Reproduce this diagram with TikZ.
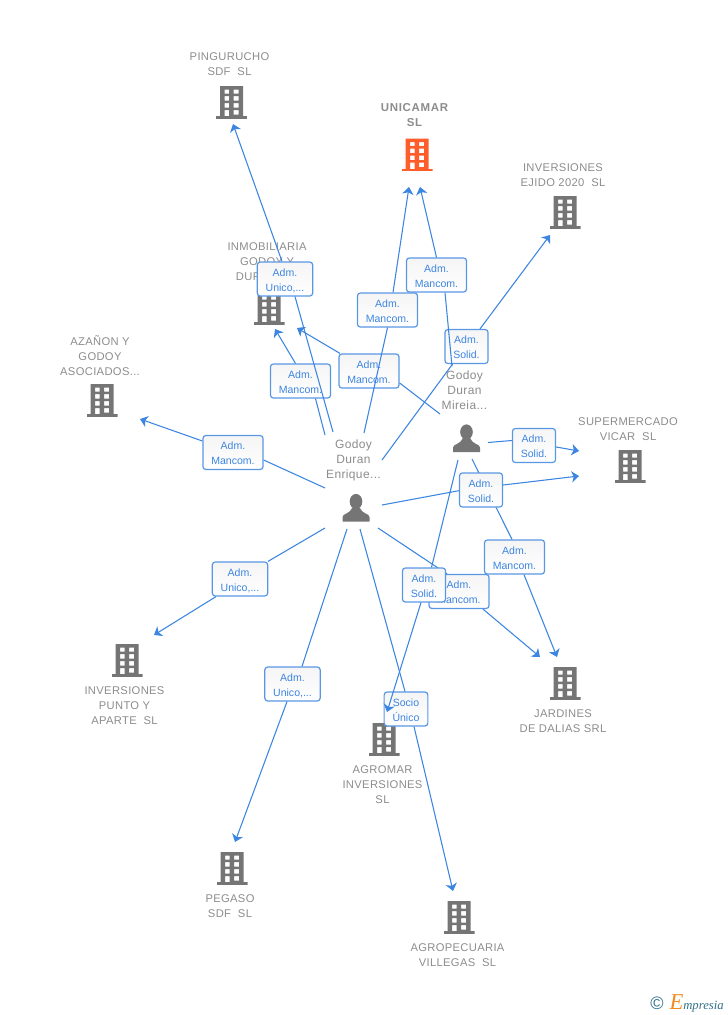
\documentclass[tikz,border=0pt]{standalone}
\usepackage{fontspec}
\setmainfont{Liberation Sans}
\newfontfamily\lblfont[LetterSpace=3]{Liberation Sans}
\newfontfamily\boldfont[LetterSpace=6]{Liberation Sans}
\newfontfamily\logofont{Liberation Serif}
\usetikzlibrary{arrows.meta, positioning}
\definecolor{linkblue}{HTML}{3C85E0}
\definecolor{lblgrey}{HTML}{8C8C8C}
\definecolor{iconbase}{HTML}{757575}
\definecolor{iconred}{HTML}{FF5E2B}
\definecolor{logoteal}{HTML}{2F6F86}
\definecolor{logoorange}{HTML}{F28A1E}

\begin{document}
\begin{tikzpicture}[
      x=0.75pt, y=-0.75pt,
      >={Stealth[length=5.5pt, width=8.5pt, inset=1.5pt]},
      link/.style={linkblue, line width=0.8pt},
      rolebox/.style={rectangle, draw=linkblue!85, line width=0.9pt, rounded corners=2.2pt, top color=black!4, bottom color=white,
        text=linkblue, font=\fontsize{7.9}{11.25}\selectfont, align=center, inner xsep=6.3pt, inner ysep=1.8pt, minimum height=25.5pt, text height=18.5pt, text depth=0pt},
      complabel/.style={text=lblgrey, font=\lblfont\fontsize{8.4}{11.25}\selectfont, align=center, inner sep=0pt},
      perlabel/.style={text=lblgrey, font=\lblfont\fontsize{9}{11.25}\selectfont, align=center, inner sep=0pt},
      bldg/.style={rectangle, minimum width=23.25pt, minimum height=25pt, inner sep=0pt, path picture={
        \begin{scope}[shift={(path picture bounding box.center)}]
          \fill[#1, even odd rule] (-11.5,-16) rectangle (11.5,15)
            (-7,-12.5) rectangle (-2.5,-8.5) (2,-12.5) rectangle (7,-8.5)
            (-7,-6) rectangle (-2.5,-1.5) (2,-6) rectangle (7,-1.5)
            (-7,1) rectangle (-2.5,5.5) (2,1) rectangle (7,5.5)
            (-7,8) rectangle (-2.5,15) (2,8) rectangle (7,12.5);
          \fill[#1] (-15.5,14) rectangle (15.5,16.5);
        \end{scope}}},
      bldg/.default=iconbase,
      person/.style={rectangle, minimum width=21pt, minimum height=22.5pt, inner sep=0pt, path picture={
        \begin{scope}[shift={(path picture bounding box.center)}]
          \fill[iconbase] (0,-6) ellipse (6.3 and 7.6);
          \fill[iconbase] (-13.5,14) -- (-13.5,9.5) .. controls (-13.5,6) and (-6,6.5) .. (-3.5,0) -- (3.5,0)
            .. controls (6,6.5) and (13.5,6) .. (13.5,9.5) -- (13.5,14) -- cycle;
        \end{scope}}}
    ]
    \useasboundingbox (0,0) rectangle (728,1015);

    % Companies
    \node[bldg] (pingurucho) at (231.5,102) {};
    \node[bldg=iconred] (unicamar) at (417,154.5) {};
    \node[bldg] (ejido) at (565,212) {};
    \node[bldg] (inmobiliaria) at (269,308) {};
    \node[bldg] (azanon) at (102,400) {};
    \node[bldg] (supermercado) at (630,466) {};
    \node[bldg] (punto) at (127,660) {};
    \node[bldg] (jardines) at (565,683) {};
    \node[bldg] (agromar) at (384,739) {};
    \node[bldg] (pegaso) at (232,868) {};
    \node[bldg] (agropecuaria) at (459,917) {};

    % Company labels
    \node[complabel] (pingurucho_l) at (229.5,64) {PINGURUCHO\\SDF~~SL};
    \node[complabel, font=\boldfont\bfseries\fontsize{8.6}{11.25}\selectfont] (unicamar_l) at (414.5,115.5) {UNICAMAR\\SL};
    \node[complabel] (ejido_l) at (563,175) {INVERSIONES\\EJIDO 2020~~SL};
    \node[complabel] (inmobiliaria_l) at (267,261.5) {INMOBILIARIA\\GODOY Y\\DURAN~~SL};
    \node[complabel] (azanon_l) at (100,355.5) {AZAÑON Y\\GODOY\\ASOCIADOS...};
    \node[complabel] (supermercado_l) at (628,429) {SUPERMERCADO\\VICAR~~SL};
    \node[complabel] (punto_l) at (124.5,705.5) {INVERSIONES\\PUNTO Y\\APARTE~~SL};
    \node[complabel] (jardines_l) at (563,721.5) {JARDINES\\DE DALIAS SRL};
    \node[complabel] (agromar_l) at (382.5,784.5) {AGROMAR\\INVERSIONES\\SL};
    \node[complabel] (pegaso_l) at (230,906) {PEGASO\\SDF~~SL};
    \node[complabel] (agropecuaria_l) at (457.5,955) {AGROPECUARIA\\VILLEGAS~~SL};

    % People
    \node[person] (enrique) at (356,507.5) {};
    \node[person] (mireia) at (466.5,438) {};
    \node[perlabel] (enrique_l) at (353.5,460) {Godoy\\Duran\\Enrique...};
    \node[perlabel] (mireia_l) at (464.5,390.5) {Godoy\\Duran\\Mireia...};

    % Loose ends
    \coordinate (e_pin) at (333,432);    \coordinate (t_pin) at (233,124);
    \coordinate (e_uni) at (364,433);    \coordinate (t_unil) at (409,187);
    \coordinate (e_eji) at (382,460);    \coordinate (t_eji) at (550,235);
    \coordinate (e_inm) at (325,435);    \coordinate (t_inml) at (275,329);
    \coordinate (m_inm) at (440,414);    \coordinate (t_inmr) at (297,328);
    \coordinate (e_aza) at (325,488);    \coordinate (t_aza) at (140,419);
    \coordinate (e_pun) at (325,528);    \coordinate (t_pun) at (154,635);
    \coordinate (e_peg) at (347,529);    \coordinate (t_peg) at (235,842);
    \coordinate (e_agp) at (360,529);    \coordinate (t_agp) at (453,891);
    \coordinate (e_jar) at (378,528);    \coordinate (t_jarl) at (540,657);
    \coordinate (e_sup) at (382,505);    \coordinate (t_supl) at (579,476);
    \coordinate (m_sup) at (488,442.5);  \coordinate (t_supr) at (579,451);
    \coordinate (m_jar) at (472,459);    \coordinate (t_jarr) at (557,657);
    \coordinate (m_agr) at (458,460);    \coordinate (t_agr) at (387,712);
    \coordinate (t_unir) at (420,187);

    % Runs under the solid box
    \node[rolebox] (r_jarr) at (514.5,557) {Adm.\\Mancom.};
    \draw[link] (m_jar) -- ([shift={(-2.5,0)}]r_jarr.north);

    % Role boxes
    \node[rolebox] (r_pin) at (285,279) {Adm.\\Unico,...};
    \node[rolebox] (r_inml) at (300.5,381) {Adm.\\Mancom.};
    \node[rolebox] (r_unil) at (387.5,310) {Adm.\\Mancom.};
    \node[rolebox] (r_aza) at (233,452.5) {Adm.\\Mancom.};
    \node[rolebox] (r_pun) at (240,579) {Adm.\\Unico,...};
    \node[rolebox] (r_peg) at (292.5,684) {Adm.\\Unico,...};
    \node[rolebox] (r_jarl) at (459,591.5) {Adm.\\Mancom.};
    \node[rolebox] (r_supl) at (481,490) {Adm.\\Solid.};
    \node[rolebox] (r_eji) at (466.5,346.5) {Adm.\\Solid.};
    \node[rolebox] (r_unir) at (436.5,275) {Adm.\\Mancom.};
    \node[rolebox] (r_inmr) at (369,371) {Adm.\\Mancom.};
    \node[rolebox] (r_supr) at (534,445.5) {Adm.\\Solid.};
    \node[rolebox] (r_agp) at (406,709) {Socio\\Único};

    % Connections
    \draw[link] (e_pin) -- ([shift={(10,0)}]r_pin.south);
    \draw[link, ->] ([shift={(-3,0)}]r_pin.north) -- (t_pin);
    \draw[link] (e_inm) -- ([shift={(15,0)}]r_inml.south);
    \draw[link, ->] ([shift={(-5,0)}]r_inml.north) -- (t_inml);
    \draw[link] (e_uni) -- (r_unil.south);
    \draw[link, ->] ([shift={(5.5,0)}]r_unil.north) -- (t_unil);
    \draw[link] (e_eji) -- ([shift={(-14,0)}]r_eji.south);
    \draw[link, ->] ([shift={(13.5,0)}]r_eji.north) -- (t_eji);
    \draw[link] ([shift={(8.5,0)}]r_unir.south) -- ([shift={(-14.5,2)}]r_eji.south);
    \draw[link, ->] (r_unir.north) -- (t_unir);
    \draw[link] (m_inm) -- ([shift={(0,12)}]r_inmr.east);
    \draw[link, ->] ([shift={(-29,0)}]r_inmr.north) -- (t_inmr);
    \draw[link] (e_aza) -- ([shift={(0,7.5)}]r_aza.east);
    \draw[link, ->] ([shift={(0,-11.5)}]r_aza.west) -- (t_aza);
    \draw[link] (e_pun) -- ([shift={(28,0)}]r_pun.north);
    \draw[link, ->] ([shift={(-24,0)}]r_pun.south) -- (t_pun);
    \draw[link] (e_peg) -- ([shift={(9.5,0)}]r_peg.north);
    \draw[link, ->] ([shift={(-5.5,0)}]r_peg.south) -- (t_peg);
    \draw[link] (e_agp) -- ([shift={(-1,0)}]r_agp.north);
    \draw[link, ->] ([shift={(8,0)}]r_agp.south) -- (t_agp);
    \draw[link] (e_jar) -- ([shift={(-12,0)}]r_jarl.north);
    \draw[link, ->] ([shift={(24,0)}]r_jarl.south) -- (t_jarl);
    \draw[link] (e_sup) -- ([shift={(0,0.7)}]r_supl.west);
    \draw[link, ->] ([shift={(0,-5)}]r_supl.east) -- (t_supl);
    \draw[link] (m_sup) -- ([shift={(0,-5)}]r_supr.west);
    \draw[link, ->] ([shift={(0,1.5)}]r_supr.east) -- (t_supr);
    \draw[link, ->] ([shift={(9.5,0)}]r_jarr.south) -- (t_jarr);

    % Last one sits over the others
    \node[rolebox] (r_agr) at (424,585) {Adm.\\Solid.};
    \draw[link] (m_agr) -- ([shift={(7.5,0)}]r_agr.north);
    \draw[link, ->] ([shift={(-3,0)}]r_agr.south) -- (t_agr);

    % Logo
    \node[text=logoteal, font=\fontsize{13.5}{14}\selectfont, inner sep=0pt] (logo_c) at (657,1003.5) {©};
    \node[right=4pt of logo_c, inner sep=0pt, text=logoteal, font=\logofont\itshape\fontsize{9.5}{10}\selectfont] (logo_t) {{\color{logoorange}\fontsize{17}{15}\selectfont E}mpresia};

    \end{tikzpicture}
\end{document}
